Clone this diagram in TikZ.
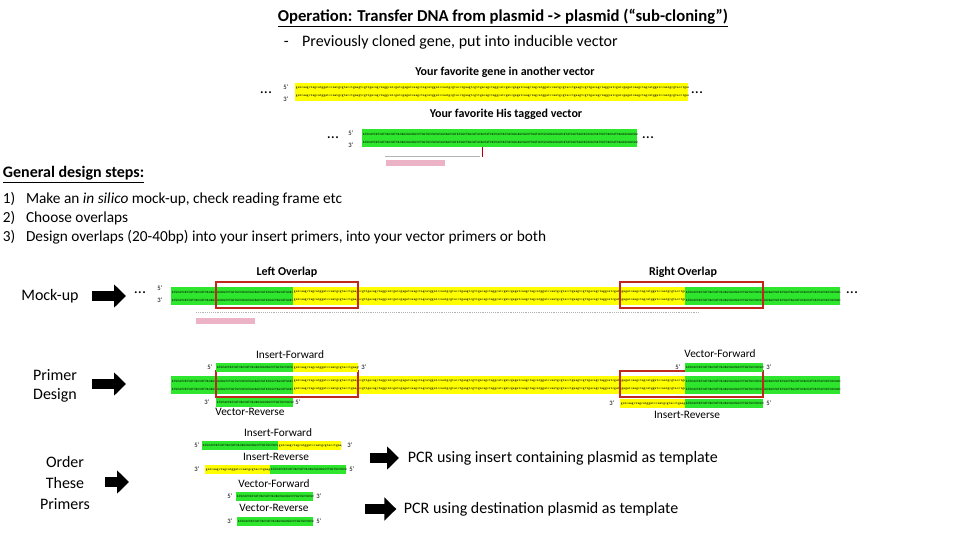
\documentclass[tikz,border=0pt]{standalone}
\usepackage{fontspec}
\setmainfont{Carlito}
\usepackage{tikz}
\usetikzlibrary{arrows.meta,positioning}
\definecolor{seqyellow}{HTML}{FFFF00}
\definecolor{seqgreen}{HTML}{2EE62E}
\definecolor{boxred}{HTML}{C0281E}
\def\dnalo{gatcaagctagcatggatccaatgcgtacctgaagtcgttgacagctaggcatcgatcga}
\def\dnaup{ATGCACCATCATCACCATCACAGCAGCGGCCTGGTGCCGCGCGGCAGCCATATGGCTAGC}
\newcommand\seqrep[1]{#1#1#1#1#1}
% sequence segment: x1, x2, y top, colour, string
\newcommand\seqseg[5]{%
  \fill[#4] (#1,#3) rectangle (#2,#3+18);
  \begin{scope}
    \clip (#1,#3) rectangle (#2,#3+18);
    \node[seqtxt] at (#1,#3+5) {\seqrep{#5}};
    \node[seqtxt] at (#1,#3+13) {\seqrep{#5}};
  \end{scope}}
\newcommand\primerseg[5]{%
  \fill[#4] (#1,#3) rectangle (#2,#3+9);
  \begin{scope}
    \clip (#1,#3) rectangle (#2,#3+9);
    \node[seqtxt] at (#1,#3+4.5) {#5};
  \end{scope}}
\begin{document}
\begin{tikzpicture}[x=0.75pt,y=-0.75pt,
  seqtxt/.style={anchor=west,inner sep=0.5pt,font=\fontsize{2.6}{2.6}\selectfont\ttfamily},
  end/.style={font=\fontsize{5}{5}\selectfont,inner sep=0.5pt},
  dots/.style={font=\fontsize{12}{12}\selectfont,inner sep=0pt},
  lbl/.style={font=\bfseries\fontsize{9}{9}\selectfont,inner sep=0.5pt},
  plbl/.style={font=\fontsize{8.5}{8.5}\selectfont,inner sep=0.5pt},
  big/.style={font=\fontsize{11.5}{13.5}\selectfont,inner sep=0.5pt},
  overlap/.style={draw=boxred,line width=1.4pt},
  blockarrow/.style={line width=8pt,-{Triangle[length=9pt,width=17pt]}}]
  \useasboundingbox (0,0) rectangle (960,540);
  % heading
  \node[font=\bfseries\fontsize{12.5}{14}\selectfont,inner sep=0.5pt] (title) at (503,18) {\underline{Operation: Transfer DNA from plasmid -> plasmid (“sub-cloning”)}};
  \node[big,anchor=west,font=\fontsize{12}{14}\selectfont] (sub) at (283,42) {-\hspace{10pt}Previously cloned gene, put into inducible vector};
  % gene in another vector
  \node[lbl] (genelbl) at (505,72) {Your favorite gene in another vector};
  \seqseg{295}{688}{83}{seqyellow}{\dnalo}
  \node[dots] (gdl) at (266,93) {...};
  \node[dots] (gdr) at (697,93) {...};
  \node[end] (g5) at (286,87) {5'};
  \node[end] (g3) at (286,99) {3'};
  % his tagged vector
  \node[lbl] (veclbl) at (506,114) {Your favorite His tagged vector};
  \seqseg{362}{637}{129}{seqgreen}{\dnaup}
  \node[dots] (vdl) at (333,138) {...};
  \node[dots] (vdr) at (648,138) {...};
  \node[end] (v5) at (351,133) {5'};
  \node[end] (v3) at (351,145) {3'};
  \draw[gray!60] (385,156) -- (480,156);
  \fill[purple!30] (386,160) rectangle (445,166);
  \draw[red!70!black] (482,147) -- (482,157);
  % design steps
  \node[anchor=west,font=\bfseries\fontsize{12}{13}\selectfont,inner sep=0.5pt] (steps) at (2,175) {\underline{General design steps:}};
  \node[big,anchor=west] (s1) at (2,199) {1)\hspace{8pt}Make an \textit{in silico} mock-up, check reading frame etc};
  \node[big,anchor=west] (s2) at (2,218) {2)\hspace{8pt}Choose overlaps};
  \node[big,anchor=west] (s3) at (2,237) {3)\hspace{8pt}Design overlaps (20-40bp) into your insert primers, into your vector primers or both};
  % mock-up
  \node[lbl] (leftov) at (287,272) {Left Overlap};
  \node[lbl] (rightov) at (683,272) {Right Overlap};
  \node[big,font=\fontsize{12}{14}\selectfont] (mock) at (50,296) {Mock-up};
  \draw[blockarrow] (92,296) -- (126,296);
  \node[dots] (mdl) at (140,293) {...};
  \node[dots] (mdr) at (852,293) {...};
  \node[end] (m5) at (160,288) {5'};
  \node[end] (m3) at (160,300) {3'};
  \seqseg{171}{293}{287}{seqgreen}{\dnaup}
  \seqseg{293}{685}{287}{seqyellow}{\dnalo}
  \seqseg{685}{840}{287}{seqgreen}{\dnaup}
  \draw[overlap] (216,282) rectangle (358,308);
  \draw[overlap] (620,282) rectangle (763,308);
  \draw[gray!60,densely dotted] (196,312) -- (700,312);
  \fill[purple!30] (196,318) rectangle (255,324);
  % primer design
  \node[big,align=center,font=\fontsize{12}{14}\selectfont] (pdesign) at (55,386) {Primer\\Design};
  \draw[blockarrow] (92,384) -- (126,384);
  \seqseg{171}{293}{376}{seqgreen}{\dnaup}
  \seqseg{293}{685}{376}{seqyellow}{\dnalo}
  \seqseg{685}{840}{376}{seqgreen}{\dnaup}
  \draw[overlap] (216,371) rectangle (358,397);
  \draw[overlap] (620,371) rectangle (763,397);
  \node[plbl] (ifwd) at (290,355) {Insert-Forward};
  \primerseg{216}{293}{363}{seqgreen}{\dnaup}
  \primerseg{293}{358}{363}{seqyellow}{\dnalo}
  \node[end] at (210,367) {5'}; \node[end] at (364,367) {3'};
  \primerseg{216}{293}{398}{seqgreen}{\dnaup}
  \node[end] at (207,402) {3'}; \node[end] at (298,402) {5'};
  \node[plbl] (vrev) at (250,412) {Vector-Reverse};
  \node[plbl] (vfwd) at (720,354) {Vector-Forward};
  \primerseg{685}{763}{363}{seqgreen}{\dnaup}
  \node[end] at (678,367) {5'}; \node[end] at (769,367) {3'};
  \primerseg{620}{685}{399}{seqyellow}{\dnalo}
  \primerseg{685}{763}{399}{seqgreen}{\dnaup}
  \node[end] at (612,403) {3'}; \node[end] at (769,403) {5'};
  \node[plbl] (irev) at (687,415) {Insert-Reverse};
  % order primers
  \node[big,align=center,font=\fontsize{12}{16}\selectfont] (order) at (65,483) {Order\\These\\Primers};
  \draw[blockarrow] (105,482) -- (129,482);
  \node[plbl] (oifwd) at (278,433) {Insert-Forward};
  \primerseg{202}{278}{441}{seqgreen}{\dnaup}
  \primerseg{278}{341}{441}{seqyellow}{\dnalo}
  \node[end] at (197,445) {5'}; \node[end] at (350,445) {3'};
  \node[plbl] (oirev) at (276,457) {Insert-Reverse};
  \primerseg{205}{270}{465}{seqyellow}{\dnalo}
  \primerseg{270}{346}{465}{seqgreen}{\dnaup}
  \node[end] at (197,469) {3'}; \node[end] at (352,469) {5'};
  \node[plbl] (ovfwd) at (274,484) {Vector-Forward};
  \primerseg{236}{313}{492}{seqgreen}{\dnaup}
  \node[end] at (230,496) {5'}; \node[end] at (319,496) {3'};
  \node[plbl] (ovrev) at (274,508) {Vector-Reverse};
  \primerseg{237}{313}{517}{seqgreen}{\dnaup}
  \node[end] at (230,521) {3'}; \node[end] at (319,521) {5'};
  % PCR notes
  \node[big,anchor=west,font=\fontsize{12}{14}\selectfont] (pcr1) at (407,458) {PCR using insert containing plasmid as template};
  \node[big,anchor=west,font=\fontsize{12}{14}\selectfont] (pcr2) at (403,509) {PCR using destination plasmid as template};
  \draw[blockarrow] (370,458) -- ([xshift=-6pt]pcr1.west);
  \draw[blockarrow] (365,509) -- ([xshift=-5pt]pcr2.west);
\end{tikzpicture}
\end{document}
